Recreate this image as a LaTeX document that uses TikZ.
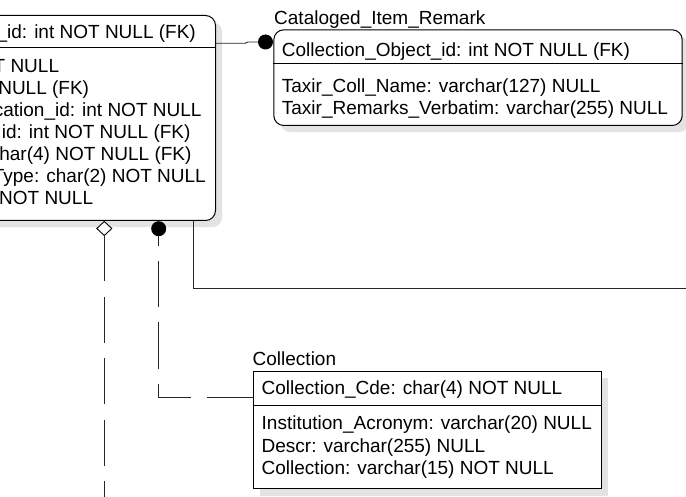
\documentclass[tikz,border=0pt]{standalone}
\usepackage{fontspec}
\setmainfont{Liberation Sans}
\tikzset{
  tbl/.style={draw=black, line width=1pt, fill=white, inner sep=0pt, anchor=north west},
  tshadow/.style={fill=gray!22, draw=none, inner sep=0pt, anchor=north west},
  txt/.style={inner sep=0pt, font=\fontsize{19}{22}\selectfont},
  sepline/.style={draw=black, line width=1pt},
  conn/.style={draw=black!85, line width=0.9pt},
  dashconn/.style={conn, dash pattern=on 46pt off 15.4pt},
  dotnode/.style={circle, fill=black, draw=none, minimum size=15pt, inner sep=0pt},
  diamline/.style={draw=black, line width=0.9pt, fill=white, line join=miter}
}
\begin{document}
\begin{tikzpicture}[x=1pt,y=-1pt]
\useasboundingbox (0,0) rectangle (686,497);
\clip (0,0) rectangle (686,497);
\fill[white] (0,0) rectangle (686,497);

% ---------- left table (cut off) ----------
\node[tshadow, rounded corners=10pt, minimum width=255pt, minimum height=205pt] (ltabsh) at (-33,22) {};
\node[tbl, rounded corners=10pt, minimum width=255pt, minimum height=205pt] (ltab) at (-40,15) {};
\draw[sepline] (ltab.west |- 0,48) -- (ltab.east |- 0,48);
\node[txt, anchor=base east] (l0) at (196,39) {\_id: int NOT NULL (FK)};
\node[txt, anchor=base east] (l1) at (59.3,72.5) {NOT NULL};
\node[txt, anchor=base east] (l2) at (89.3,94.5) {NULL (FK)};
\node[txt, anchor=base east] (l3) at (201.7,116.5) {cation\_id: int NOT NULL};
\node[txt, anchor=base east] (l4) at (190.7,138.5) {id: int NOT NULL (FK)};
\node[txt, anchor=base east] (l5) at (191.7,160.5) {char(4) NOT NULL (FK)};
\node[txt, anchor=base east] (l6) at (206,182.5) {Type: char(2) NOT NULL};
\node[txt, anchor=base east] (l7) at (93.3,204.5) {NOT NULL};

% ---------- Cataloged_Item_Remark ----------
\node[tshadow, rounded corners=10pt, minimum width=408.4pt, minimum height=95.7pt] (cirsh) at (280.3,36.3) {};
\node[tbl, rounded corners=10pt, minimum width=408.4pt, minimum height=95.7pt] (cir) at (273.3,29.3) {};
\draw[sepline] (cir.west |- 0,63.3) -- (cir.east |- 0,63.3);
\node[txt, anchor=base west] (cirt) at (274,25) {Cataloged\_Item\_Remark};
\node[txt, anchor=base west] (cir0) at (281.7,57) {Collection\_Object\_id: int NOT NULL (FK)};
\node[txt, anchor=base west] (cir1) at (281.7,92.6) {Taxir\_Coll\_Name: varchar(127) NULL};
\node[txt, anchor=base west] (cir2) at (281.7,114.3) {Taxir\_Remarks\_Verbatim: varchar(255) NULL};

% ---------- Collection ----------
\node[tshadow, minimum width=348pt, minimum height=117.3pt] (colsh) at (259.7,378) {};
\node[tbl, minimum width=348pt, minimum height=117.3pt] (col) at (252.7,371) {};
\draw[sepline] (col.west |- 0,405) -- (col.east |- 0,405);
\node[txt, anchor=base west] (colt) at (252.5,366) {Collection};
\node[txt, anchor=base west] (col0) at (261.5,394.5) {Collection\_Cde: char(4) NOT NULL};
\node[txt, anchor=base west] (col1) at (261.5,429.5) {Institution\_Acronym: varchar(20) NULL};
\node[txt, anchor=base west] (col2) at (261.5,452) {Descr: varchar(255) NULL};
\node[txt, anchor=base west] (col3) at (261.5,474.5) {Collection: varchar(15) NOT NULL};

% ---------- connectors ----------
% left table -> Cataloged_Item_Remark
\node[dotnode] (d1) at (265.5,42) {};
\coordinate (j1) at (245,43.3);
\coordinate (j2) at (247.5,42);
\draw[conn] (ltab.east |- 0,43.3) -- (j1) -- (j2) -- (d1.west);

% Collection -> left table (dashed, filled dot)
\node[dotnode] (d2) at (158.7,228.7) {};
\draw[dashconn] (col.west |- 0,397.3) -- (d2.center |- 0,397.3) -- (d2.south);

% left table -> down (dashed, hollow diamond)
\coordinate (dmt) at (104.3,221.5);
\coordinate (dms) at (104.3,235.5);
\draw[diamline] (dmt) -- ++(7.5,7) -- (dms) -- ++(-7.5,-7) -- cycle;
\coordinate (dmend) at (104.3,505);
\draw[dashconn] (dms) -- (dmend);

% left table -> right (solid)
\coordinate (r1) at (193.3,288.3);
\coordinate (r2) at (695,288.3);
\draw[conn] (ltab.south -| r1) -- (r1) -- (r2);
\end{tikzpicture}
\end{document}
